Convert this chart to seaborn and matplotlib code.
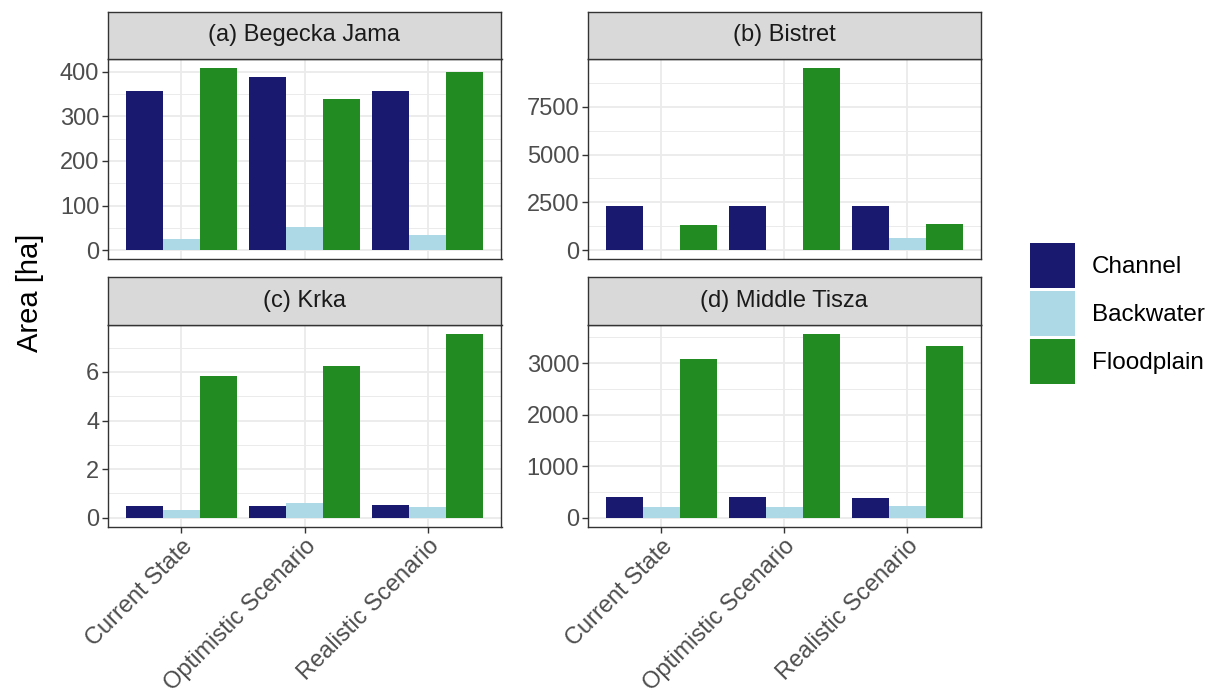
#
# Habitat area per site and scenario (facet style bar chart)
#
import numpy as np
import pandas as pd
import matplotlib
matplotlib.use('Agg')
import matplotlib.pyplot as plt
from matplotlib.ticker import MultipleLocator, AutoMinorLocator
import seaborn as sns

# ------------------------------------------------------------- #
# Data
scenarios = ['Current State', 'Optimistic Scenario', 'Realistic Scenario']
habitats = ['Channel', 'Backwater', 'Floodplain']
sites = ['(a) Begecka Jama', '(b) Bistret', '(c) Krka', '(d) Middle Tisza']

# values per scenario (Current, Optimistic, Realistic)
begecka_channel = [357, 387, 356]
begecka_backwater = [26, 53, 33]
begecka_floodplain = [407, 339, 400]

bistret_channel = [2310, 2310, 2310]
bistret_backwater = [0, 0, 660]
bistret_floodplain = [1300, 9500, 1350]

krka_channel = [0.48, 0.48, 0.51]
krka_backwater = [0.33, 0.59, 0.44]
krka_floodplain = [5.84, 6.25, 7.55]

tisza_channel = [407, 407, 388]
tisza_backwater = [213, 207, 227]
tisza_floodplain = [3072, 3563, 3324]

ytick_steps = [100, 2500, 2, 1000]
colours = ['#191970', '#ADD8E6', '#228B22']   # midnightblue, lightblue, forestgreen

# build a long table
site_values = {
    sites[0]: [begecka_channel, begecka_backwater, begecka_floodplain],
    sites[1]: [bistret_channel, bistret_backwater, bistret_floodplain],
    sites[2]: [krka_channel, krka_backwater, krka_floodplain],
    sites[3]: [tisza_channel, tisza_backwater, tisza_floodplain],
}
rows = []
for site in sites:
    for h, vals in zip(habitats, site_values[site]):
        for sc, v in zip(scenarios, vals):
            rows.append({'Site': site, 'Habitat': h, 'Scenario': sc, 'Area': v})
df = pd.DataFrame(rows)

# ------------------------------------------------------------- #
# Style
plt.rcParams['font.family'] = ['Liberation Sans', 'DejaVu Sans']
W, H = 1210, 700
grey20 = '#333333'
grey30 = '#4D4D4D'
grey85 = '#D9D9D9'
grey92 = '#EBEBEB'
tickfs = 17

fig = plt.figure(figsize=(W / 100, H / 100), dpi=100)

def fx(px):
    return px / W

def fy(py):
    return 1 - py / H

# panel boxes in pixels: left, right, strip top, panel top, panel bottom
boxes = [
    (107.5, 501.5, 11.7, 59.3, 259.3),
    (587.5, 981.0, 11.7, 59.3, 259.3),
    (107.5, 501.5, 277.3, 325.0, 527.0),
    (587.5, 981.0, 277.3, 325.0, 527.0),
]

handles, labels = None, None
for i, site in enumerate(sites):
    l, r, st, pt, pb = boxes[i]
    ax = fig.add_axes([fx(l), fy(pb), fx(r) - fx(l), fy(pt) - fy(pb)])
    sub = df[df['Site'] == site]
    sns.barplot(data=sub, x='Scenario', y='Area', hue='Habitat',
                order=scenarios, hue_order=habitats, palette=colours,
                saturation=1, width=0.9, linewidth=0, errorbar=None, ax=ax,
                legend=(i == 0), zorder=3)
    if i == 0:
        handles, labels = ax.get_legend_handles_labels()
        ax.legend_.remove()

    ymax = sub['Area'].max()
    ax.set_ylim(-0.05 * ymax, 1.05 * ymax)
    ax.set_xlim(-0.6, 2.6)
    ax.yaxis.set_major_locator(MultipleLocator(ytick_steps[i]))
    ax.yaxis.set_minor_locator(AutoMinorLocator(2))
    ax.grid(True, which='major', color=grey92, linewidth=1.3, zorder=0)
    ax.grid(True, which='minor', axis='y', color=grey92, linewidth=0.7, zorder=0)
    ax.set_axisbelow(True)
    for s in ax.spines.values():
        s.set_color(grey20)
        s.set_linewidth(1.0)
    ax.tick_params(axis='both', which='major', length=4, width=1.0, color=grey20,
                   labelsize=tickfs, labelcolor=grey30, pad=2)
    ax.tick_params(axis='y', which='minor', length=0)
    ax.set_xlabel('')
    ax.set_ylabel('')
    if i < 2:
        ax.set_xticklabels([])
        ax.tick_params(axis='x', length=0)
    else:
        ax.set_xticks(range(len(scenarios)))
        ax.set_xticklabels(scenarios, rotation=45, ha='right',
                           rotation_mode='anchor', va='top')

    # strip
    sax = fig.add_axes([fx(l), fy(pt), fx(r) - fx(l), fy(st) - fy(pt)])
    sax.set_facecolor(grey85)
    sax.set_xticks([])
    sax.set_yticks([])
    for s in sax.spines.values():
        s.set_color(grey20)
        s.set_linewidth(1.0)
    sax.text(0.5, 0.5, site, ha='center', va='center', fontsize=tickfs,
             color='#1A1A1A', transform=sax.transAxes)

fig.text(fx(30), fy(293), 'Area [ha]', rotation=90, ha='center', va='center',
         fontsize=21, color='black')

fig.legend(handles, labels, loc='center left',
           bbox_to_anchor=(fx(1030), fy(313.5)), frameon=False,
           borderpad=0, borderaxespad=0, fontsize=17.5,
           handlelength=1.85, handleheight=2.47, handletextpad=0.7,
           labelspacing=0.12)

fig.savefig('out.png', dpi=100)
plt.close()
